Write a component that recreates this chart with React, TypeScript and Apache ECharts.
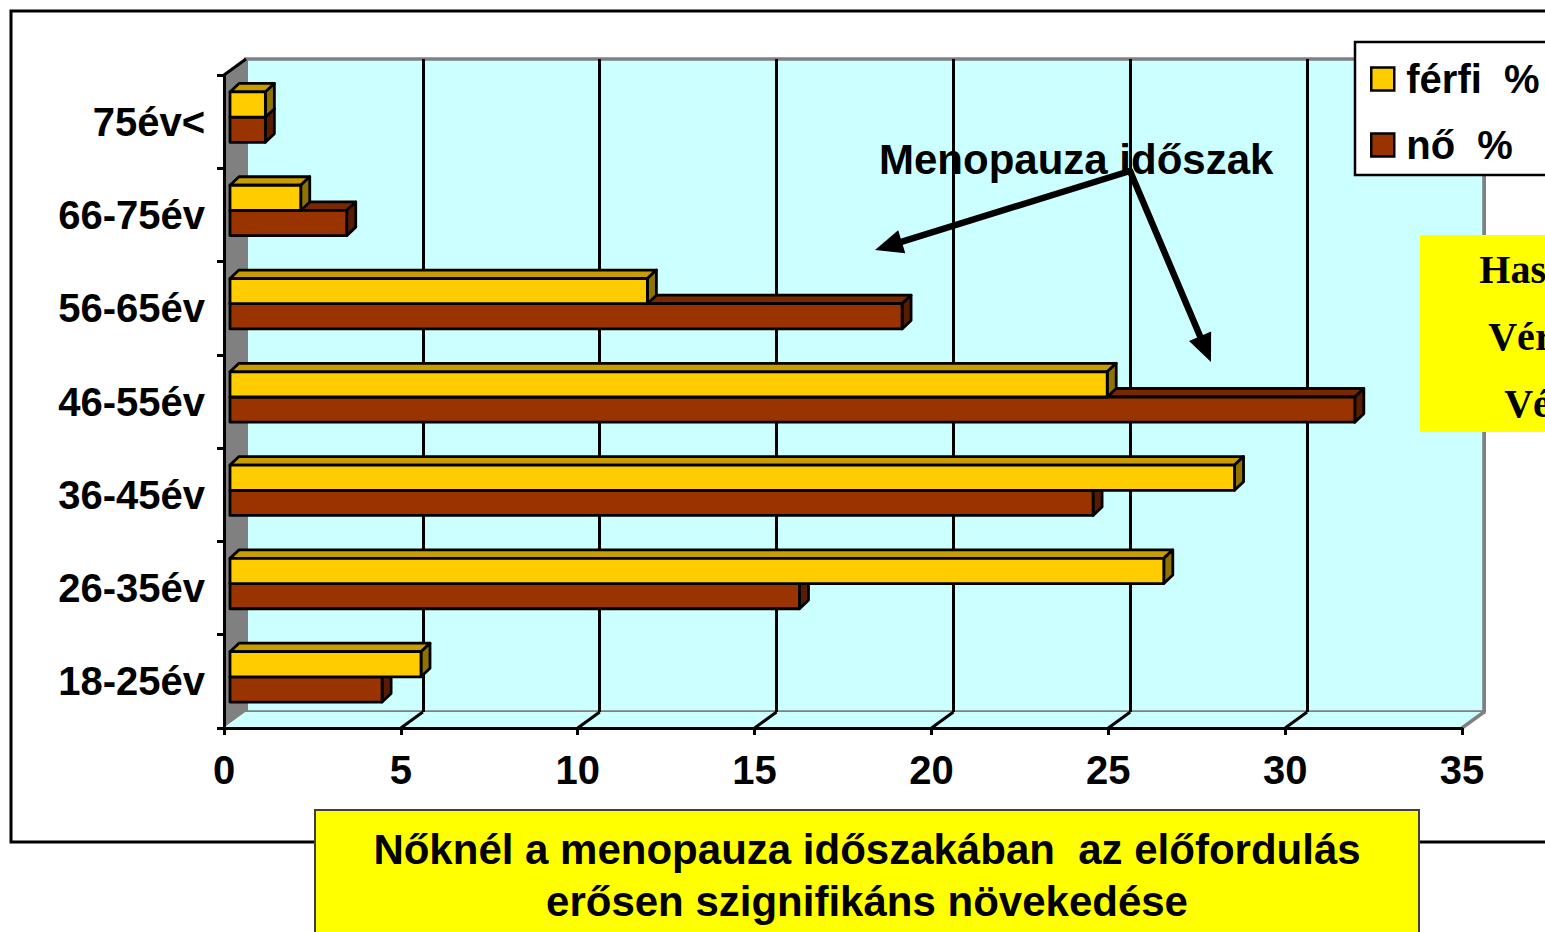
import React, { useEffect, useRef } from "react";
import * as echarts from "echarts";

// ---- data ----
const categories = ["18-25év", "26-35év", "36-45év", "46-55év", "56-65év", "66-75év", "75év<"];
const ferfiValues = [5.4, 26.4, 28.4, 24.8, 11.8, 2.0, 1.0];
const noValues = [4.3, 16.1, 24.4, 31.8, 19.0, 3.3, 1.0];
const xTicks = [0, 5, 10, 15, 20, 25, 30, 35];
const seriesNames = ["férfi  %", "nő  %"];
const annotationText = "Menopauza időszak";
const footerLines = ["Nőknél a menopauza időszakában  az előfordulás", "erősen szignifikáns növekedése"];
const sideBoxLines = ["Haskörfogat", "Vérnyomás", "Vércukor"];

// ---- style constants ----
const FONT = "'Liberation Sans', Arial, Helvetica, sans-serif";
const SERIF = "'Liberation Serif', 'Times New Roman', serif";
const WALL = [22, -16];
const BAR_SHIFT = [6, -4.5];
const BAR_DEPTH = [9, -8.5];
const CYAN = "#CCFFFF";
const GRAY = "#808080";

function barRenderer(upper: boolean, front: string, top: string, side: string) {
  return (params: any, api: any) => {
    const v = api.value(0);
    const c = api.value(1);
    const p0 = api.coord([0, c]);
    const p1 = api.coord([v, c]);
    const band = api.size([0, 1])[1];
    const bh = band * 0.27;
    const x0 = p0[0] + BAR_SHIFT[0];
    const x1 = p1[0] + BAR_SHIFT[0];
    const yc = p0[1] + BAR_SHIFT[1];
    const y = upper ? yc - bh : yc;
    const [dx, dy] = BAR_DEPTH;
    const stroke = { stroke: "#000", lineWidth: 2.8, lineJoin: "round" };
    return {
      type: "group",
      children: [
        {
          type: "polygon",
          shape: { points: [[x0, y], [x0 + dx, y + dy], [x1 + dx, y + dy], [x1, y]] },
          style: { fill: top, ...stroke },
        },
        {
          type: "polygon",
          shape: { points: [[x1, y], [x1 + dx, y + dy], [x1 + dx, y + bh + dy], [x1, y + bh]] },
          style: { fill: side, ...stroke },
        },
        {
          type: "rect",
          shape: { x: x0, y: y, width: x1 - x0, height: bh },
          style: { fill: front, ...stroke },
        },
      ],
    };
  };
}

function arrowElements(sx: number, sy: number, tx: number, ty: number) {
  const len = 28;
  const hw = 12;
  const L = Math.hypot(tx - sx, ty - sy);
  const ux = (tx - sx) / L;
  const uy = (ty - sy) / L;
  const bx = tx - ux * len;
  const by = ty - uy * len;
  const nx = -uy;
  const ny = ux;
  return [
    {
      type: "line",
      z: 30,
      shape: { x1: sx, y1: sy, x2: bx + ux * 3, y2: by + uy * 3 },
      style: { stroke: "#000", lineWidth: 6.5, lineCap: "round" },
    },
    {
      type: "polygon",
      z: 30,
      shape: { points: [[tx, ty], [bx + nx * hw, by + ny * hw], [bx - nx * hw, by - ny * hw]] },
      style: { fill: "#000" },
    },
  ];
}

export default function App() {
  const ref = useRef<HTMLDivElement>(null);

  useEffect(() => {
    if (!ref.current) return;
    const chart = echarts.init(ref.current, null, { renderer: "svg" });

    const option: any = {
      animation: false,
      backgroundColor: "#fff",
      textStyle: { fontFamily: FONT },
      grid: [
        { left: 224, top: 75, width: 1238, height: 653, containLabel: false },
        {
          left: 224 + WALL[0],
          top: 75 + WALL[1],
          width: 1238,
          height: 653,
          show: true,
          backgroundColor: CYAN,
          borderColor: GRAY,
          borderWidth: 3.5,
          z: 0,
        },
      ],
      xAxis: [
        {
          type: "value",
          gridIndex: 0,
          min: 0,
          max: 35,
          interval: 5,
          z: 10,
          axisLine: { show: true, lineStyle: { color: "#000", width: 3 } },
          axisTick: { show: true, length: 7, lineStyle: { color: "#000", width: 3 } },
          axisLabel: { color: "#000", fontSize: 40, fontWeight: "bold", fontFamily: FONT, margin: 22 },
          splitLine: { show: false },
        },
        {
          type: "value",
          gridIndex: 1,
          min: 0,
          max: 35,
          interval: 5,
          z: 0,
          axisLine: { show: false },
          axisTick: { show: false },
          axisLabel: { show: false },
          splitLine: {
            show: true,
            lineStyle: { color: [GRAY, "#000", "#000", "#000", "#000", "#000", "#000", GRAY], width: 3 },
          },
        },
      ],
      yAxis: [
        {
          type: "category",
          gridIndex: 0,
          data: categories,
          z: 10,
          axisLine: { show: true, lineStyle: { color: "#000", width: 3 } },
          axisTick: { show: true, length: 7, lineStyle: { color: "#000", width: 3 } },
          axisLabel: { color: "#000", fontSize: 40, fontWeight: "bold", fontFamily: FONT, margin: 19 },
          splitLine: { show: false },
        },
        {
          type: "category",
          gridIndex: 1,
          data: categories,
          show: false,
        },
      ],
      legend: {
        data: seriesNames,
        orient: "vertical",
        left: 1370,
        top: 59,
        itemWidth: 23,
        itemHeight: 23,
        itemGap: 26,
        icon: "rect",
        padding: 0,
        z: 40,
        selectedMode: false,
        itemStyle: { borderColor: "#000", borderWidth: 2.5 },
        textStyle: {
          fontSize: 40,
          fontWeight: "bold",
          color: "#000",
          fontFamily: FONT,
          lineHeight: 40,
          padding: [0, 0, 0, 7],
        },
      },
      series: [
        {
          name: "frame",
          type: "custom",
          xAxisIndex: 0,
          yAxisIndex: 0,
          z: 1,
          silent: true,
          data: [[0, 0]],
          renderItem: (params: any, api: any) => {
            const cs = params.coordSys;
            const x = cs.x;
            const y = cs.y;
            const w = cs.width;
            const h = cs.height;
            const [dx, dy] = WALL;
            return {
              type: "group",
              children: [
                {
                  type: "polygon",
                  shape: { points: [[x, y], [x + dx, y + dy], [x + dx, y + h + dy], [x, y + h]] },
                  style: { fill: GRAY },
                },
                {
                  type: "polygon",
                  shape: { points: [[x, y + h], [x + dx, y + h + dy], [x + w + dx, y + h + dy], [x + w, y + h]] },
                  style: { fill: CYAN },
                },
                {
                  type: "line",
                  shape: { x1: x + w + dx, y1: y + h + dy, x2: x + w, y2: y + h },
                  style: { stroke: GRAY, lineWidth: 3.5 },
                },
                {
                  type: "line",
                  shape: { x1: x + dx, y1: y + h + dy, x2: x, y2: y + h },
                  style: { stroke: "#e8ffff", lineWidth: 1 },
                },
                {
                  type: "line",
                  shape: { x1: x, y1: y, x2: x + dx, y2: y + dy },
                  style: { stroke: "#000", lineWidth: 3 },
                },
              ],
            };
          },
        },
        {
          name: "floorGrid",
          type: "custom",
          xAxisIndex: 0,
          yAxisIndex: 0,
          z: 1,
          silent: true,
          data: xTicks.slice(1, xTicks.length - 1).map((v) => [v, 0]),
          renderItem: (params: any, api: any) => {
            const cs = params.coordSys;
            const px = api.coord([api.value(0), 0])[0];
            const yb = cs.y + cs.height;
            return {
              type: "line",
              shape: { x1: px + WALL[0], y1: yb + WALL[1], x2: px, y2: yb },
              style: { stroke: "#000", lineWidth: 3 },
            };
          },
        },
        {
          name: seriesNames[1],
          type: "custom",
          xAxisIndex: 0,
          yAxisIndex: 0,
          z: 2,
          itemStyle: { color: "#993300" },
          encode: { x: 0, y: 1 },
          data: noValues.map((v, i) => [v, i]),
          renderItem: barRenderer(false, "#993300", "#7A2800", "#5A1C00"),
        },
        {
          name: seriesNames[0],
          type: "custom",
          xAxisIndex: 0,
          yAxisIndex: 0,
          z: 3,
          itemStyle: { color: "#FFCC00" },
          encode: { x: 0, y: 1 },
          data: ferfiValues.map((v, i) => [v, i]),
          renderItem: barRenderer(true, "#FFCC00", "#C99C00", "#8F7200"),
        },
      ],
      graphic: {
        elements: [
          // outer frame
          {
            type: "rect",
            z: 20,
            silent: true,
            shape: { x: 11, y: 11, width: 1700, height: 831 },
            style: { fill: "none", stroke: "#000", lineWidth: 3 },
          },
          // annotation
          {
            type: "text",
            z: 30,
            x: 879,
            y: 159,
            style: {
              text: annotationText,
              fontSize: 42,
              fontWeight: "bold",
              fontFamily: FONT,
              fill: "#000",
              align: "left",
              verticalAlign: "middle",
            },
          },
          ...arrowElements(1130, 171, 875, 250),
          ...arrowElements(1130, 171, 1211, 362),
          // legend frame
          {
            type: "rect",
            z: 35,
            shape: { x: 1355, y: 42, width: 400, height: 133 },
            style: { fill: "#fff", stroke: "#000", lineWidth: 2.5 },
          },
          // right yellow box (extends past the right edge, as in the slide)
          {
            type: "rect",
            z: 35,
            shape: { x: 1420, y: 235, width: 340, height: 197 },
            style: { fill: "#FFFF00" },
          },
          ...sideBoxLines.map((t, i) => ({
            type: "text",
            z: 36,
            x: 1586,
            y: 269 + i * 67,
            style: {
              text: t,
              fontSize: 40,
              fontWeight: "bold",
              fontFamily: SERIF,
              fill: "#000",
              align: "center",
              verticalAlign: "middle",
            },
          })),
          // bottom yellow box
          {
            type: "rect",
            z: 35,
            shape: { x: 315, y: 810, width: 1104, height: 200 },
            style: { fill: "#FFFF00", stroke: "#404040", lineWidth: 2 },
          },
          ...footerLines.map((t, i) => ({
            type: "text",
            z: 36,
            x: 867,
            y: 849 + i * 52,
            style: {
              text: t,
              fontSize: 42,
              fontWeight: "bold",
              fontFamily: FONT,
              fill: "#000",
              align: "center",
              verticalAlign: "middle",
            },
          })),
        ],
      },
    };

    chart.setOption(option);
    return () => {
      chart.dispose();
    };
  }, []);

  return (
    <div
      ref={ref}
      style={{ position: "fixed", left: 0, top: 0, width: 1545, height: 932, overflow: "hidden", background: "#fff" }}
    />
  );
}
